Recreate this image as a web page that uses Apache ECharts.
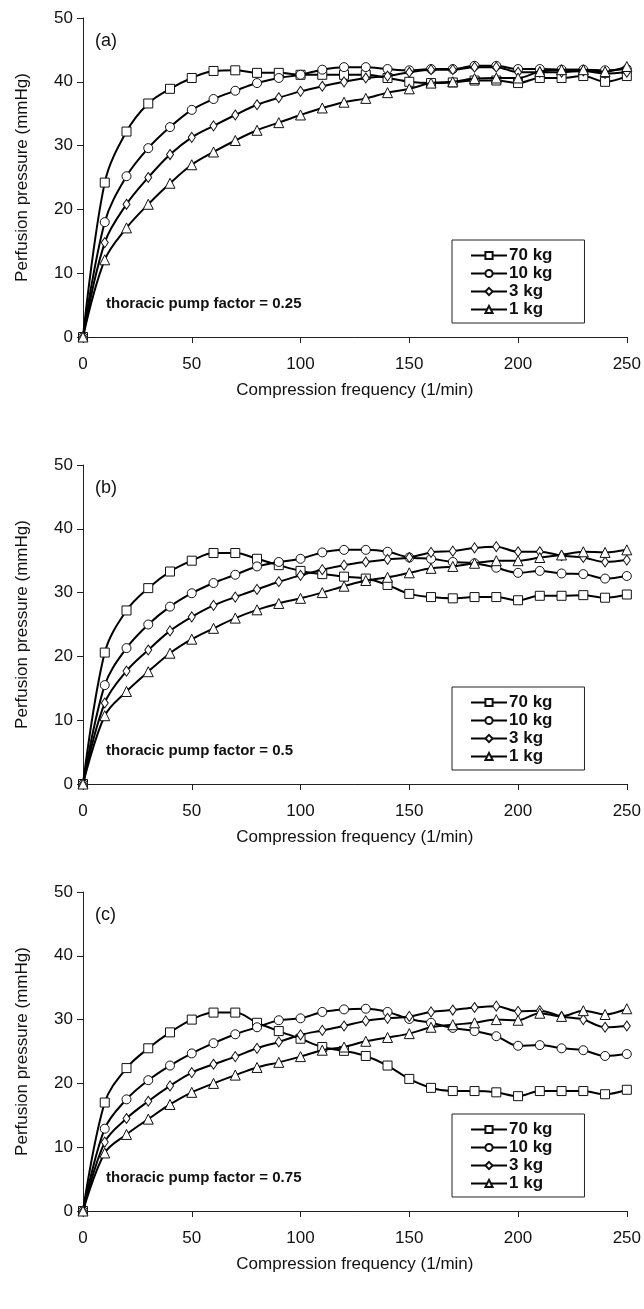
<!DOCTYPE html>
<html>
<head>
<meta charset="UTF-8" />
<title>Perfusion pressure vs compression frequency</title>
<style>
  html, body { margin: 0; padding: 0; background: #fff; }
  #chart { width: 644px; height: 1309px; }
</style>
</head>
<body>
<div id="chart"></div>
<script src="https://cdn.jsdelivr.net/npm/echarts@6/dist/echarts.min.js"></script>
<script>
// compression frequency (1/min)
var freq = [0, 10, 20, 30, 40, 50, 60, 70, 80, 90, 100, 110, 120, 130, 140, 150, 160, 170, 180, 190, 200, 210, 220, 230, 240, 250];

// (a) thoracic pump factor = 0.25
var a70 = [0, 24.2, 32.2, 36.6, 38.9, 40.6, 41.7, 41.8, 41.4, 41.4, 41.1, 41.1, 41.1, 41.1, 40.6, 40.0, 39.8, 39.9, 40.2, 40.2, 39.8, 40.6, 40.6, 40.9, 40.0, 40.9];
var a10 = [0, 18.0, 25.2, 29.6, 32.9, 35.6, 37.3, 38.6, 39.8, 40.6, 41.1, 41.9, 42.3, 42.3, 42.0, 41.8, 42.0, 42.0, 42.5, 42.5, 42.0, 42.0, 41.9, 41.9, 41.8, 42.0];
var a3 = [0, 14.8, 20.8, 25.0, 28.6, 31.3, 33.1, 34.8, 36.4, 37.5, 38.5, 39.3, 40.0, 40.6, 40.9, 41.5, 41.9, 41.9, 42.3, 42.3, 41.5, 41.5, 41.5, 41.7, 41.3, 41.5];
var a1 = [0, 12.1, 17.1, 20.8, 24.1, 27.0, 29.0, 30.8, 32.4, 33.6, 34.8, 35.9, 36.8, 37.4, 38.3, 38.9, 39.8, 40.0, 40.5, 40.6, 40.6, 41.6, 41.9, 41.9, 41.6, 42.4];

// (b) thoracic pump factor = 0.5
var b70 = [0, 20.6, 27.2, 30.7, 33.3, 35.0, 36.2, 36.2, 35.3, 34.3, 33.4, 32.9, 32.5, 32.2, 31.2, 29.8, 29.3, 29.1, 29.3, 29.3, 28.8, 29.5, 29.5, 29.6, 29.2, 29.7];
var b10 = [0, 15.5, 21.3, 25.0, 27.8, 29.9, 31.5, 32.8, 34.1, 34.8, 35.3, 36.3, 36.7, 36.7, 36.4, 35.5, 35.3, 34.8, 34.6, 33.9, 33.1, 33.4, 33.0, 32.9, 32.2, 32.6];
var b3 = [0, 12.7, 17.7, 21.0, 24.0, 26.2, 28.0, 29.3, 30.5, 31.7, 32.7, 33.6, 34.3, 34.8, 35.2, 35.5, 36.3, 36.5, 37.0, 37.2, 36.4, 36.4, 35.8, 35.5, 34.8, 35.1];
var b1 = [0, 10.7, 14.5, 17.6, 20.5, 22.7, 24.4, 26.0, 27.3, 28.3, 29.1, 30.0, 31.0, 31.9, 32.4, 33.1, 33.8, 34.1, 34.6, 35.0, 35.0, 35.5, 35.9, 36.4, 36.3, 36.7];

// (c) thoracic pump factor = 0.75
var c70 = [0, 17.0, 22.4, 25.5, 28.0, 30.0, 31.1, 31.1, 29.5, 28.2, 27.0, 25.7, 25.1, 24.3, 22.8, 20.7, 19.3, 18.8, 18.8, 18.6, 18.0, 18.8, 18.8, 18.8, 18.3, 19.0];
var c10 = [0, 12.9, 17.5, 20.5, 22.8, 24.7, 26.3, 27.7, 28.8, 29.9, 30.2, 31.2, 31.6, 31.7, 31.2, 30.1, 29.5, 28.7, 28.2, 27.4, 25.9, 26.0, 25.5, 25.2, 24.3, 24.6];
var c3 = [0, 10.8, 14.5, 17.2, 19.6, 21.7, 23.0, 24.2, 25.5, 26.5, 27.6, 28.3, 29.0, 29.8, 30.2, 30.5, 31.2, 31.5, 31.9, 32.1, 31.3, 31.4, 30.5, 30.0, 28.8, 29.0];
var c1 = [0, 9.1, 12.0, 14.4, 16.7, 18.6, 20.0, 21.3, 22.5, 23.3, 24.2, 25.2, 25.7, 26.6, 27.2, 27.8, 28.8, 29.2, 29.5, 30.0, 29.9, 31.0, 30.5, 31.4, 30.8, 31.7];

var weights = ['70 kg', '10 kg', '3 kg', '1 kg'];
var symbols = ['rect', 'circle', 'diamond', 'triangle'];
var symbolSizes = [9, 9, [7, 10], 10];
var panels = [
  { tag: '(a)', note: 'thoracic pump factor = 0.25', lines: [a70, a10, a3, a1] },
  { tag: '(b)', note: 'thoracic pump factor = 0.5', lines: [b70, b10, b3, b1] },
  { tag: '(c)', note: 'thoracic pump factor = 0.75', lines: [c70, c10, c3, c1] }
];
var gridTops = [18, 465, 892];
var plotH = 319;
var font = 'Liberation Sans, Arial, sans-serif';

var grids = [], xAxes = [], yAxes = [], series = [], legends = [], graphics = [];

panels.forEach(function (p, i) {
  var top = gridTops[i];
  grids.push({ left: 83, width: 544, top: top, height: plotH });
  xAxes.push({
    gridIndex: i, type: 'value', min: 0, max: 250, interval: 50,
    name: 'Compression frequency (1/min)', nameLocation: 'middle', nameGap: 45,
    nameTextStyle: { fontFamily: font, fontSize: 17, color: '#111' },
    axisLine: { lineStyle: { color: '#222', width: 1 } },
    axisTick: { length: 6, lineStyle: { color: '#222' } },
    axisLabel: { fontFamily: font, fontSize: 17, color: '#111', margin: 19 },
    splitLine: { show: false }
  });
  yAxes.push({
    gridIndex: i, type: 'value', min: 0, max: 50, interval: 10,
    name: 'Perfusion pressure (mmHg)', nameLocation: 'middle', nameGap: 52,
    nameTextStyle: { fontFamily: font, fontSize: 17, color: '#111' },
    axisLine: { show: true, lineStyle: { color: '#222', width: 1 } },
    axisTick: { show: true, length: 6, lineStyle: { color: '#222' } },
    axisLabel: { fontFamily: font, fontSize: 17, color: '#111', margin: 10 },
    splitLine: { show: false }
  });
  p.lines.forEach(function (vals, k) {
    series.push({
      name: weights[k],
      type: 'line',
      xAxisIndex: i,
      yAxisIndex: i,
      smooth: 0.35,
      symbol: symbols[k],
      symbolSize: symbolSizes[k],
      showAllSymbol: true,
      lineStyle: { color: '#000', width: 2 },
      itemStyle: { color: '#fff', borderColor: '#111', borderWidth: 1 },
      emphasis: { disabled: true },
      z: 2 + k,
      data: freq.map(function (f, j) { return [f, vals[j]]; })
    });
  });
  legends.push({
    data: weights,
    orient: 'vertical',
    left: 452,
    top: top + 222,
    itemWidth: 36,
    itemHeight: 9,
    itemGap: 1,
    padding: [7, 32, 5, 18],
    borderColor: '#222',
    borderWidth: 1,
    backgroundColor: '#fff',
    selectedMode: false,
    textStyle: { fontFamily: font, fontSize: 17, fontWeight: 'bold', color: '#111', padding: [0, 0, 0, -3] }
  });
  graphics.push({
    type: 'text', left: 95, top: top + 14,
    style: { text: p.tag, font: '18px ' + font, fill: '#111' }
  });
  graphics.push({
    type: 'text', left: 106, top: top + 278,
    style: { text: p.note, font: 'bold 15px ' + font, fill: '#111' }
  });
});

var chart = echarts.init(document.getElementById('chart'));
chart.setOption({
  backgroundColor: '#fff',
  animation: false,
  grid: grids,
  xAxis: xAxes,
  yAxis: yAxes,
  legend: legends,
  graphic: graphics,
  series: series
});
</script>
</body>
</html>
